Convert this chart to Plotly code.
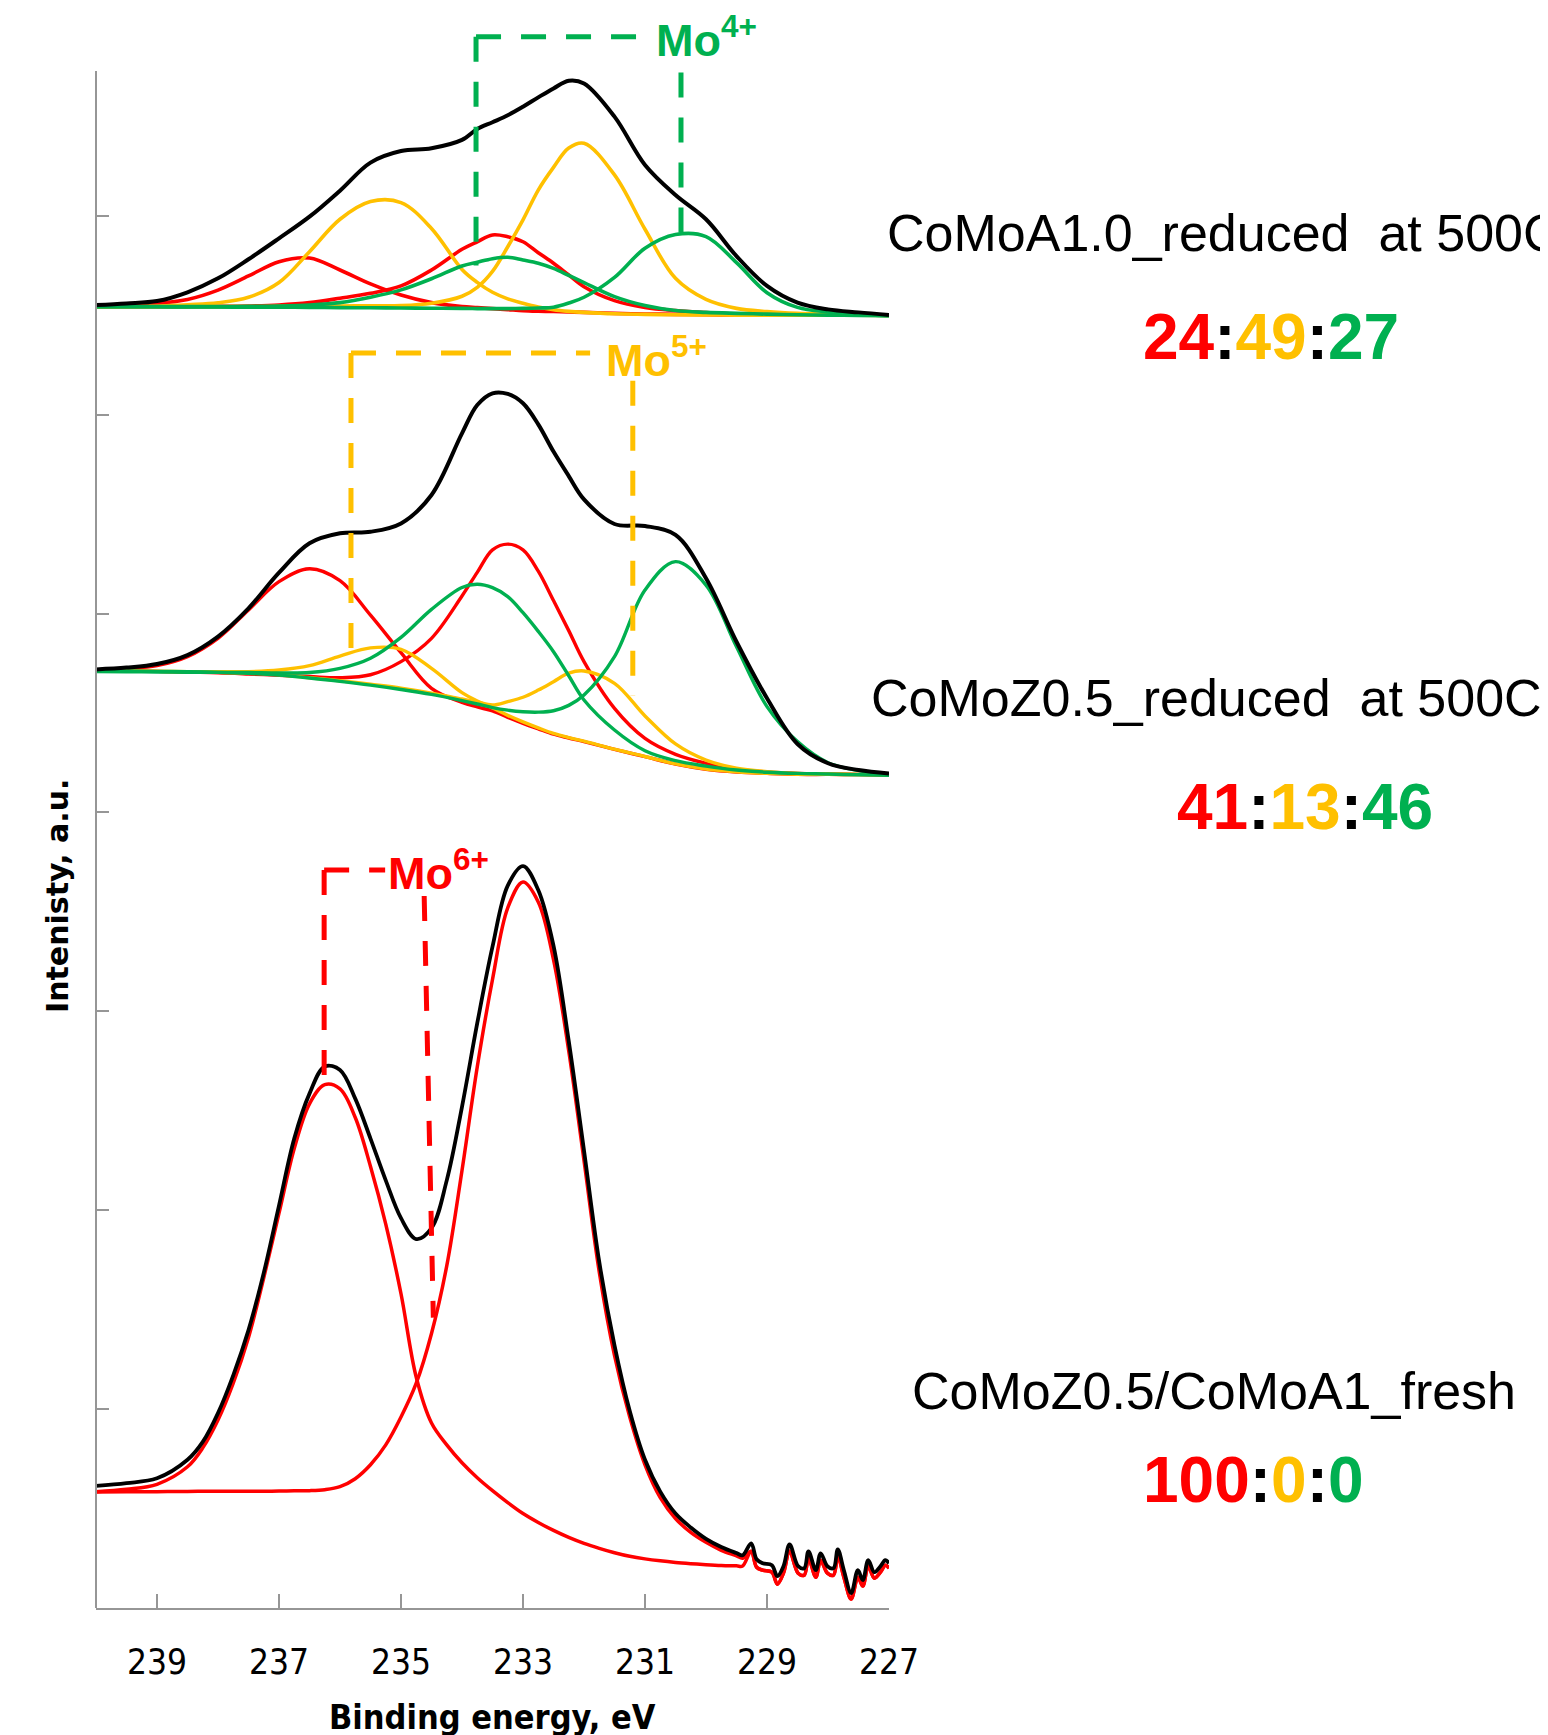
import plotly.graph_objects as go

# ---------------- data (binding energy, eV ; intensity, a.u. in y-tick units) ----------------
E_GRID = [240.0, 239.5, 239.0, 238.5, 238.0, 237.5, 237.0, 236.5, 236.0, 235.5, 235.0, 234.5,
          234.0, 233.75, 233.5, 233.25, 233.0, 232.75, 232.5, 232.25, 232.0,
          231.5, 231.0, 230.5, 230.0, 229.5, 229.0, 228.5, 228.0, 227.5, 227.0]

# CoMoA1.0 reduced at 500C (top spectrum)
TOP_BLACK = [6.551, 6.559, 6.571, 6.615, 6.685, 6.781, 6.886, 6.995, 7.126, 7.267, 7.325, 7.339,
             7.381, 7.436, 7.470, 7.505, 7.548, 7.595, 7.640, 7.679, 7.665,
             7.498, 7.255, 7.104, 6.982, 6.797, 6.647, 6.563, 6.529, 6.514, 6.501]
TOP_MO6_A = [6.546, 6.553, 6.559, 6.579, 6.626, 6.697, 6.769, 6.787, 6.727, 6.657, 6.601, 6.563,
             6.543, 6.538, 6.533, 6.528, 6.523, 6.520, 6.518, 6.516, 6.514,
             6.509, 6.506, 6.504, 6.502, 6.501, 6.500, 6.500, 6.500, 6.500, 6.500]
TOP_MO6_B = [6.543, 6.543, 6.543, 6.543, 6.544, 6.546, 6.551, 6.563, 6.585, 6.610, 6.647, 6.727,
             6.831, 6.869, 6.903, 6.894, 6.869, 6.814, 6.761, 6.702, 6.643,
             6.573, 6.539, 6.523, 6.513, 6.506, 6.503, 6.500, 6.500, 6.500, 6.500]
TOP_MO5_A = [6.543, 6.543, 6.545, 6.552, 6.562, 6.590, 6.664, 6.819, 6.982, 7.071, 7.066, 6.936,
             6.730, 6.665, 6.615, 6.582, 6.560, 6.541, 6.527, 6.519, 6.514,
             6.507, 6.504, 6.502, 6.501, 6.500, 6.500, 6.500, 6.500, 6.500, 6.499]
TOP_MO5_B = [6.543, 6.543, 6.543, 6.543, 6.543, 6.543, 6.544, 6.545, 6.546, 6.547, 6.548, 6.560,
             6.595, 6.640, 6.720, 6.844, 6.979, 7.129, 7.243, 7.340, 7.364,
             7.205, 6.932, 6.685, 6.579, 6.534, 6.518, 6.509, 6.505, 6.502, 6.498]
TOP_MO4_A = [6.543, 6.543, 6.543, 6.543, 6.543, 6.544, 6.546, 6.551, 6.563, 6.590, 6.627, 6.683,
             6.747, 6.766, 6.784, 6.791, 6.777, 6.761, 6.735, 6.700, 6.664,
             6.593, 6.548, 6.523, 6.514, 6.509, 6.505, 6.502, 6.500, 6.499, 6.497]
TOP_MO4_B = [6.543, 6.542, 6.542, 6.541, 6.541, 6.540, 6.540, 6.539, 6.538, 6.537, 6.536, 6.535,
             6.534, 6.533, 6.533, 6.533, 6.534, 6.536, 6.540, 6.561, 6.590,
             6.690, 6.836, 6.905, 6.895, 6.764, 6.613, 6.539, 6.516, 6.505, 6.497]

# CoMoZ0.5 reduced at 500C (middle spectrum)
MID_BLACK = [4.719, 4.728, 4.746, 4.791, 4.884, 5.026, 5.205, 5.353, 5.403, 5.411, 5.453, 5.596,
             5.906, 6.048, 6.107, 6.104, 6.057, 5.951, 5.814, 5.691, 5.574,
             5.450, 5.440, 5.395, 5.177, 4.858, 4.574, 4.344, 4.247, 4.213, 4.196]
MID_MO6_A = [4.716, 4.723, 4.738, 4.783, 4.875, 5.018, 5.160, 5.225, 5.165, 4.992, 4.803, 4.624,
             4.553, 4.530, 4.510, 4.478, 4.448, 4.420, 4.393, 4.374, 4.356,
             4.317, 4.280, 4.243, 4.217, 4.203, 4.196, 4.191, 4.191, 4.190, 4.189]
MID_MO6_B = [4.711, 4.710, 4.709, 4.705, 4.702, 4.696, 4.689, 4.683, 4.677, 4.692, 4.758, 4.875,
             5.088, 5.207, 5.320, 5.349, 5.320, 5.213, 5.065, 4.914, 4.758,
             4.523, 4.372, 4.292, 4.247, 4.217, 4.203, 4.196, 4.193, 4.191, 4.189]
MID_MO5_A = [4.711, 4.710, 4.709, 4.708, 4.708, 4.708, 4.716, 4.738, 4.786, 4.827, 4.820, 4.724,
             4.602, 4.560, 4.525, 4.488, 4.455, 4.425, 4.397, 4.376, 4.358,
             4.318, 4.281, 4.244, 4.218, 4.204, 4.196, 4.192, 4.191, 4.190, 4.189]
MID_MO5_B = [4.711, 4.711, 4.709, 4.707, 4.705, 4.700, 4.692, 4.677, 4.662, 4.644, 4.625, 4.600,
             4.570, 4.555, 4.540, 4.557, 4.579, 4.615, 4.657, 4.700, 4.711,
             4.649, 4.485, 4.344, 4.263, 4.222, 4.205, 4.196, 4.193, 4.191, 4.189]
MID_MO4_A = [4.708, 4.707, 4.706, 4.705, 4.704, 4.703, 4.701, 4.703, 4.724, 4.775, 4.880, 5.021,
             5.131, 5.147, 5.130, 5.085, 5.004, 4.910, 4.808, 4.687, 4.565,
             4.414, 4.310, 4.260, 4.233, 4.213, 4.202, 4.196, 4.193, 4.189, 4.187]
MID_MO4_B = [4.711, 4.711, 4.709, 4.707, 4.704, 4.699, 4.690, 4.676, 4.659, 4.640, 4.618, 4.593,
             4.562, 4.545, 4.527, 4.514, 4.506, 4.504, 4.511, 4.538, 4.590,
             4.783, 5.118, 5.261, 5.143, 4.833, 4.532, 4.356, 4.250, 4.210, 4.191]

# CoMoZ0.5/CoMoA1 fresh (bottom spectrum)
E_BOT = [240.0, 239.5, 239.0, 238.5, 238.25, 238.0, 237.75, 237.5, 237.25, 237.0, 236.75, 236.5,
         236.25, 236.0, 235.75, 235.5, 235.25, 235.0, 234.75, 234.5, 234.25, 234.0, 233.75, 233.5,
         233.25, 233.0, 232.75, 232.5, 232.25, 232.0, 231.75, 231.5, 231.25, 231.0, 230.75, 230.5,
         230.25, 230.0, 229.75, 229.5,
         229.4, 229.26, 229.17, 229.07, 228.92, 228.83, 228.73, 228.63, 228.49, 228.39, 228.32,
         228.2, 228.12, 228.01, 227.91, 227.84, 227.74, 227.62, 227.51, 227.43, 227.34, 227.24,
         227.14, 227.06, 227.0]
BOT_BLACK = [0.614, 0.628, 0.652, 0.745, 0.835, 0.980, 1.170, 1.397, 1.685, 2.023, 2.360, 2.586,
             2.723, 2.705, 2.561, 2.360, 2.150, 1.960, 1.855, 1.910, 2.150, 2.520, 2.940, 3.325,
             3.632, 3.730, 3.610, 3.330, 2.850, 2.300, 1.740, 1.320, 0.990, 0.745, 0.585, 0.475,
             0.405, 0.348, 0.307, 0.276,
             0.265, 0.325, 0.245, 0.225, 0.215, 0.160, 0.210, 0.320, 0.210, 0.200, 0.285, 0.190,
             0.275, 0.210, 0.200, 0.295, 0.190, 0.075, 0.190, 0.140, 0.240, 0.180, 0.210, 0.240,
             0.225]
BOT_MO6_A = [0.585, 0.597, 0.622, 0.710, 0.805, 0.945, 1.130, 1.360, 1.660, 1.985, 2.310, 2.535,
             2.631, 2.610, 2.466, 2.220, 1.930, 1.580, 1.160, 0.930, 0.820, 0.730, 0.655, 0.590,
             0.530, 0.475, 0.430, 0.390, 0.355, 0.325, 0.300, 0.278, 0.260, 0.247, 0.237, 0.229,
             0.223, 0.218, 0.214, 0.212,
             0.211, 0.285, 0.205, 0.190, 0.180, 0.120, 0.175, 0.285, 0.175, 0.165, 0.250, 0.155,
             0.240, 0.175, 0.165, 0.260, 0.155, 0.045, 0.155, 0.110, 0.210, 0.150, 0.180, 0.215,
             0.200]
BOT_MO6_B = [0.583, 0.584, 0.585, 0.586, 0.587, 0.587, 0.587, 0.587, 0.587, 0.588, 0.589, 0.590,
             0.595, 0.610, 0.650, 0.720, 0.820, 0.960, 1.130, 1.380, 1.720, 2.200, 2.720, 3.160,
             3.520, 3.650, 3.550, 3.260, 2.800, 2.250, 1.690, 1.270, 0.960, 0.720, 0.555, 0.450,
             0.380, 0.330, 0.290, 0.262,
             0.250, 0.285, 0.205, 0.190, 0.180, 0.120, 0.175, 0.285, 0.175, 0.165, 0.250, 0.155,
             0.240, 0.175, 0.165, 0.260, 0.155, 0.045, 0.155, 0.110, 0.210, 0.150, 0.180, 0.215,
             0.200]

X_TICKS = [239, 237, 235, 233, 231, 229, 227]
Y_TICKS = [1, 2, 3, 4, 5, 6, 7]

SAMPLES = ["CoMoA1.0_reduced\u00a0 at 500C", "CoMoZ0.5_reduced\u00a0 at 500C", "CoMoZ0.5/CoMoA1_fresh"]
SHARE_MO6 = [24, 41, 100]
SHARE_MO5 = [49, 13, 0]
SHARE_MO4 = [27, 46, 0]

# ---------------- styling ----------------
RED, ORANGE, GREEN, BLACK = "#FF0000", "#FFC000", "#00B050", "#000000"
GRAY = "#969696"
ARIAL = "Liberation Sans, Arial, sans-serif"
COND = "DejaVu Sans Condensed, DejaVu Sans, sans-serif"

OFF = 8                                     # page body margin
W, H = 1548 - OFF, 1735 - OFF
PL, PR, PT, PB = 96 - OFF, 889 - OFF, 20 - OFF, 1608 - OFF   # plot area (figure px)
TICK_PX = 198.9                             # pixels per y unit
Y_MAX = (PB - PT) / TICK_PX
AXIS_TOP = 7.728


def page_x(p):
    return (p - OFF - PL) / (PR - PL)


def page_y(p):
    return (PB - (p - OFF)) / (PB - PT)


fig = go.Figure()


def curve(x, y, color, width):
    fig.add_trace(go.Scatter(x=x, y=y, mode="lines", hoverinfo="skip", showlegend=False,
                             line=dict(color=color, width=width, shape="spline", smoothing=1.0)))


for series in [(TOP_MO6_A, RED), (TOP_MO6_B, RED), (TOP_MO5_A, ORANGE), (TOP_MO5_B, ORANGE),
               (TOP_MO4_A, GREEN), (TOP_MO4_B, GREEN)]:
    curve(E_GRID, series[0], series[1], 3.6)
curve(E_GRID, TOP_BLACK, BLACK, 4)

for series in [(MID_MO6_A, RED), (MID_MO6_B, RED), (MID_MO5_A, ORANGE), (MID_MO5_B, ORANGE),
               (MID_MO4_A, GREEN), (MID_MO4_B, GREEN)]:
    curve(E_GRID, series[0], series[1], 3.4)
curve(E_GRID, MID_BLACK, BLACK, 4)

curve(E_BOT, BOT_MO6_A, RED, 3.5)
curve(E_BOT, BOT_MO6_B, RED, 3.5)
curve(E_BOT, BOT_BLACK, BLACK, 3.8)

shapes = []
shapes.append(dict(type="line", xref="paper", yref="y", x0=0, x1=0, y0=0, y1=AXIS_TOP,
                   line=dict(color=GRAY, width=2), layer="above"))


def dashed(x0, y0, x1, y1, color):
    shapes.append(dict(type="line", xref="x", yref="y", x0=x0, y0=y0, x1=x1, y1=y1,
                       line=dict(color=color, width=5, dash="25px,20px"), layer="above"))


# Mo4+ bracket
dashed(233.77, 7.90, 233.77, 6.75, GREEN)
dashed(233.77, 7.90, 231.10, 7.90, GREEN)
dashed(230.41, 7.72, 230.41, 6.91, GREEN)
# Mo5+ bracket
dashed(235.82, 6.31, 235.82, 4.79, ORANGE)
dashed(235.82, 6.31, 231.90, 6.31, ORANGE)
dashed(231.20, 6.17, 231.20, 4.585, ORANGE)
# Mo6+ bracket
dashed(236.26, 3.71, 236.26, 2.67, RED)
dashed(236.26, 3.71, 235.26, 3.71, RED)
dashed(234.62, 3.58, 234.47, 1.46, RED)

ann = []


def mo_label(text, x, y, color):
    ann.append(dict(text="<b>" + text + "</b>", x=x, y=y, xref="x", yref="y", xanchor="left",
                    yanchor="middle", showarrow=False, font=dict(family=ARIAL, size=45, color=color)))


mo_label("Mo<sup>4+</sup>", 230.85, 7.90, GREEN)
mo_label("Mo<sup>5+</sup>", 231.67, 6.29, ORANGE)
mo_label("Mo<sup>6+</sup>", 235.24, 3.71, RED)

label_pos = [(885, 233), (869, 698), (910, 1391)]
ratio_pos = [(1141, 336.5), (1175, 806.5), (1141, 1480)]
for i, name in enumerate(SAMPLES):
    lx, ly = label_pos[i]
    ann.append(dict(text=name, x=page_x(lx), y=page_y(ly), xref="paper", yref="paper",
                    xanchor="left", yanchor="middle", showarrow=False,
                    font=dict(family=ARIAL, size=52, color=BLACK)))
    rx, ry = ratio_pos[i]
    txt = ("<b><span style='color:%s'>%d</span>:<span style='color:%s'>%d</span>:"
           "<span style='color:%s'>%d</span></b>" % (RED, SHARE_MO6[i], ORANGE, SHARE_MO5[i],
                                                     GREEN, SHARE_MO4[i]))
    ann.append(dict(text=txt, x=page_x(rx), y=page_y(ry), xref="paper", yref="paper",
                    xanchor="left", yanchor="middle", showarrow=False,
                    font=dict(family=ARIAL, size=64, color=BLACK)))

ann.append(dict(text="<b>Intenisty, a.u.</b>", textangle=-90, x=page_x(58), y=page_y(896),
                xref="paper", yref="paper", xanchor="center", yanchor="middle", showarrow=False,
                font=dict(family="DejaVu Sans, sans-serif", size=30, color=BLACK)))
ann.append(dict(text="<b>Binding energy, eV</b>", x=page_x(492.5), y=page_y(1717),
                xref="paper", yref="paper", xanchor="center", yanchor="middle", showarrow=False,
                font=dict(family=COND, size=34, color=BLACK)))

fig.update_layout(
    width=W, height=H,
    margin=dict(l=PL, r=W - PR, t=PT, b=H - PB, pad=0),
    paper_bgcolor="white", plot_bgcolor="white",
    showlegend=False,
    shapes=shapes, annotations=ann,
)
fig.update_xaxes(range=[240, 227], tickvals=X_TICKS, ticktext=[str(v) for v in X_TICKS],
                 ticks="inside", ticklen=14, tickwidth=2, tickcolor=GRAY,
                 showline=True, linecolor=GRAY, linewidth=2, showgrid=False, zeroline=False,
                 tickfont=dict(family=COND, size=35, color=BLACK), ticklabelstandoff=22)
fig.update_yaxes(range=[0, Y_MAX], tickvals=Y_TICKS, ticks="inside", ticklen=13, tickwidth=2,
                 tickcolor=GRAY, showticklabels=False, showline=False, showgrid=False,
                 zeroline=False)

fig.write_html("out.html")
